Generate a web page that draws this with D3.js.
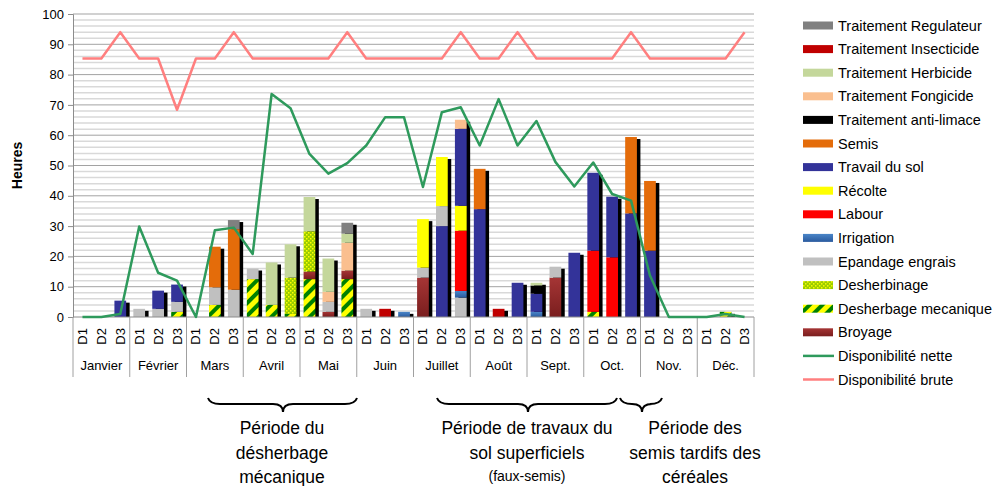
<!DOCTYPE html>
<html>
<head>
<meta charset="utf-8">
<script src="https://cdn.jsdelivr.net/npm/d3@7"></script>
<style>
  body { margin: 0; background: #fff; }
  svg { font-family: "Liberation Sans", Arial, sans-serif; }
</style>
</head>
<body>
<svg id="chart" width="993" height="486"></svg>
<script>
// Months and decades
const months = ["Janvier", "Février", "Mars", "Avril", "Mai", "Juin", "Juillet", "Août", "Sept.", "Oct.", "Nov.", "Déc."];
const decades = ["D1", "D2", "D3"];
const yTicks = [0, 10, 20, 30, 40, 50, 60, 70, 80, 90, 100];

// Hours per decade (36 values: Jan D1 ... Déc D3)
//                     Jan          Fév            Mars          Avril           Mai               Juin        Juillet          Août           Sept.         Oct.            Nov.          Déc.
const desherbageMeca = [0, 0, 0,    0, 0, 1.7,     0, 4, 0,      12.5, 4, 1,     12.5, 0, 12.5,    0, 0, 0,    0, 0, 0,         0, 0, 0,       0, 0, 0,      1.7, 0, 0,      0, 0, 0,      0, 1.7, 0];
const broyage        = [0, 0, 0,    0, 0, 0,       0, 0, 0,      0, 0, 0,        2.5, 1.7, 2.8,    0, 0, 0,    13, 0, 0,        0, 0, 0,       0, 13, 0,     0, 0, 0,        0, 0, 0,      0, 0, 0];
const travailBas     = [0, 0, 0,    0, 0, 0,       0, 0, 0,      0, 0, 0,        0, 0, 0,          0, 0, 0,    0, 30, 0,        0, 0, 0,       0, 0, 0,      0, 0, 0,        0, 0, 0,      0, 0, 0];
const epandage       = [0, 0, 0,    2.7, 2.7, 3.3, 0, 5.8, 9,    3.5, 0, 0,      0, 3.3, 0,        2.7, 0, 0,  3.3, 6.6, 6.4,   0, 0, 0,       0, 3.6, 0,    0, 0, 0,        0, 0, 0,      0, 0, 0];
const irrigation     = [0, 0, 0,    0, 0, 0,       0, 0, 0,      0, 0, 0,        0, 0, 0,          0, 0, 1.7,  0, 0, 2.2,       0, 0, 0,       1.7, 0, 0,    0, 0, 0,        0, 0, 0,      0, 0, 0];
const labour         = [0, 0, 0,    0, 0, 0,       0, 0, 0,      0, 0, 0,        0, 0, 0,          0, 0, 0,    0, 0, 19.9,      0, 0, 0,       0, 0, 0,      20.2, 19.7, 0,  0, 0, 0,      0, 0, 0];
const recolte        = [0, 0, 0,    0, 0, 0,       0, 0, 0,      0, 0, 0,        0, 0, 0,          0, 0, 0,    16, 16.2, 8.2,   0, 0, 0,       0, 0, 0,      0, 0, 0,        0, 0, 0,      0, 0, 0];
const travail        = [0, 0, 5.4,  0, 6, 5.7,     0, 0, 0,      0, 0, 0,        0, 0, 0,          0, 0, 0,    0, 0, 25.4,      35.6, 0, 11.3, 6, 0, 21.2,   25.7, 20, 34.2, 21.9, 0, 0,   0, 0, 0];
const semis          = [0, 0, 0,    0, 0, 0,       0, 13.4, 20,  0, 0, 0,        0, 0, 0,          0, 0, 0,    0, 0, 0,         13.3, 0, 0,    0, 0, 0,      0, 0, 25.2,     23, 0, 0,     0, 0, 0];
const antiLimace     = [0, 0, 0,    0, 0, 0,       0, 0, 0,      0, 0, 0,        0, 0, 0,          0, 0, 0,    0, 0, 0,         0, 0, 0,       2.7, 0, 0,    0, 0, 0,        0, 0, 0,      0, 0, 0];
const desherbinage   = [0, 0, 0,    0, 0, 0,       0, 0, 0,      0, 0, 12,       13.3, 0, 0,       0, 0, 0,    0, 0, 0,         0, 0, 0,       0, 0, 0,      0, 0, 0,        0, 0, 0,      0, 0, 0];
const fongicide      = [0, 0, 0,    0, 0, 0,       0, 0, 0,      0, 0, 0,        0, 3.3, 9.2,      0, 0, 0,    0, 0, 3,         0, 0, 0,       0, 0, 0,      0, 0, 0,        0, 0, 0,      0, 0, 0];
const herbicide      = [0, 0, 0,    0, 0, 0,       0, 0, 0,      0, 14, 11,      11.3, 11, 3,      0, 0, 0,    0, 0, 0,         0, 0, 0,       0.9, 0, 0,    0, 0, 0,        0, 0, 0,      0, 0, 0];
const insecticide    = [0, 0, 0,    0, 0, 0,       0, 0, 0,      0, 0, 0,        0, 0, 0,          0, 2.7, 0,  0, 0, 0,         0, 2.7, 0,     0, 0, 0,      0, 0, 0,        0, 0, 0,      0, 0, 0];
const regulateur     = [0, 0, 0,    0, 0, 0,       0, 0, 3,      0, 0, 0,        0, 0, 3.6,        0, 0, 0,    0, 0, 0,         0, 0, 0,       0, 0, 0,      0, 0, 0,        0, 0, 0,      0, 0, 0];

const dispoNette = [0, 0, 1, 29.9, 14.6, 12, 0, 28.6, 29.5, 20.8, 73.6, 68.9, 53.8, 47.3, 50.8, 56.6, 65.9, 65.9,
                    42.9, 67.6, 69.2, 56.6, 71.9, 56.6, 64.7, 51.2, 43.1, 51, 40.6, 38.4, 13.7, 0, 0, 0, 1, 0];
const dispoBrute = [85.3, 85.3, 94, 85.3, 85.3, 68.4, 85.3, 85.3, 94, 85.3, 85.3, 85.3, 85.3, 85.3, 94, 85.3, 85.3, 85.3,
                    85.3, 85.3, 94, 85.3, 85.3, 94, 85.3, 85.3, 85.3, 85.3, 85.3, 94, 85.3, 85.3, 85.3, 85.3, 85.3, 94];

// Series, bottom of the stack first
const series = [
    { key: "dm", label: "Desherbage mecanique", values: desherbageMeca, fill: "url(#patDM)" },
    { key: "broy", label: "Broyage", values: broyage, fill: "url(#gradBroy)" },
    { key: "travBas", label: null, values: travailBas, fill: "#333399" },
    { key: "ep", label: "Epandage engrais", values: epandage, fill: "#C0C0C0" },
    { key: "irr", label: "Irrigation", values: irrigation, fill: "url(#gradIrr)" },
    { key: "lab", label: "Labour", values: labour, fill: "#FF0000" },
    { key: "rec", label: "Récolte", values: recolte, fill: "#FFFF00" },
    { key: "trav", label: "Travail du sol", values: travail, fill: "#333399" },
    { key: "semis", label: "Semis", values: semis, fill: "#E46C0A" },
    { key: "lim", label: "Traitement anti-limace", values: antiLimace, fill: "#000000" },
    { key: "dsb", label: "Desherbinage", values: desherbinage, fill: "url(#patDSB)" },
    { key: "fong", label: "Traitement Fongicide", values: fongicide, fill: "#FABF8F" },
    { key: "herb", label: "Traitement Herbicide", values: herbicide, fill: "#C4D79B" },
    { key: "ins", label: "Traitement Insecticide", values: insecticide, fill: "#C00000" },
    { key: "reg", label: "Traitement Regulateur", values: regulateur, fill: "#808080" }
];

const legendOrder = ["reg", "ins", "herb", "fong", "lim", "semis", "trav", "rec", "lab", "irr", "ep", "dsb", "dm", "broy"];

const svg = d3.select("#chart");
const margin = { left: 73, right: 239, top: 14, bottom: 169 };
const W = 993, H = 486;
const plotRight = W - margin.right;   // 754
const plotBottom = H - margin.bottom; // 317

// patterns / gradients
const defs = svg.append("defs");
const pDM = defs.append("pattern").attr("id", "patDM").attr("patternUnits", "userSpaceOnUse")
    .attr("width", 9).attr("height", 9).attr("patternTransform", "rotate(45)");
pDM.append("rect").attr("width", 9).attr("height", 9).attr("fill", "#FFFF00");
pDM.append("rect").attr("width", 4).attr("height", 9).attr("fill", "#008000");

const pDSB = defs.append("pattern").attr("id", "patDSB").attr("patternUnits", "userSpaceOnUse")
    .attr("width", 4).attr("height", 4);
pDSB.append("rect").attr("width", 4).attr("height", 4).attr("fill", "#99CC00");
pDSB.append("rect").attr("x", 0).attr("y", 0).attr("width", 1.5).attr("height", 1.5).attr("fill", "#FFFF00");
pDSB.append("rect").attr("x", 2).attr("y", 2).attr("width", 1.5).attr("height", 1.5).attr("fill", "#FFFF00");

const gB = defs.append("linearGradient").attr("id", "gradBroy").attr("x1", 0).attr("y1", 0).attr("x2", 0).attr("y2", 1);
gB.append("stop").attr("offset", "0%").attr("stop-color", "#A53535");
gB.append("stop").attr("offset", "100%").attr("stop-color", "#7A1E1E");
const gI = defs.append("linearGradient").attr("id", "gradIrr").attr("x1", 0).attr("y1", 0).attr("x2", 0).attr("y2", 1);
gI.append("stop").attr("offset", "0%").attr("stop-color", "#4A86C8");
gI.append("stop").attr("offset", "100%").attr("stop-color", "#2A5A9E");

// scales
const slots = [];
months.forEach(m => decades.forEach(d => slots.push(m + "|" + d)));

const x = d3.scaleBand().domain(slots).range([margin.left, plotRight]).padding(0);
const y = d3.scaleLinear().domain([0, 100]).range([plotBottom, margin.top]);
const bw = x.bandwidth();
const barW = bw * 0.62;

// gridlines
const grid = svg.append("g");
grid.selectAll("line.minor")
    .data(d3.range(2, 101, 2).filter(v => v % 10 !== 0))
    .enter().append("line")
    .attr("x1", margin.left).attr("x2", plotRight)
    .attr("y1", d => y(d)).attr("y2", d => y(d))
    .attr("stroke", "#d9d9d9").attr("stroke-width", 1.5);
grid.selectAll("line.major")
    .data(yTicks.filter(v => v > 0))
    .enter().append("line")
    .attr("x1", margin.left).attr("x2", plotRight)
    .attr("y1", d => y(d)).attr("y2", d => y(d))
    .attr("stroke", "#a3a3a3").attr("stroke-width", 1);

// y axis
const yAxis = svg.append("g")
    .attr("transform", `translate(${margin.left},0)`)
    .call(d3.axisLeft(y).tickValues(yTicks).tickSize(5).tickPadding(4));
yAxis.select(".domain").attr("stroke", "#8c8c8c");
yAxis.selectAll(".tick line").attr("stroke", "#8c8c8c");
yAxis.selectAll("text").style("font-size", "13px").attr("fill", "#000");

svg.append("text")
    .attr("transform", `translate(22, ${(margin.top + plotBottom) / 2}) rotate(-90)`)
    .attr("text-anchor", "middle")
    .style("font-size", "14px").style("font-weight", "bold")
    .text("Heures");

// stacked bars
const table = slots.map((s, i) => {
    const row = { slot: s };
    series.forEach(se => row[se.key] = se.values[i]);
    return row;
});
const stacked = d3.stack().keys(series.map(s => s.key))(table);
const totals = table.map(r => d3.sum(series, s => r[s.key]));

// shadows
svg.append("g").selectAll("rect")
    .data(slots.map((s, i) => ({ slot: s, total: totals[i] })).filter(d => d.total > 0))
    .enter().append("rect")
    .attr("x", d => x(d.slot) + (bw - barW) / 2 + 3.5)
    .attr("y", d => y(d.total) + 2)
    .attr("width", barW)
    .attr("height", d => plotBottom - y(d.total) - 2)
    .attr("fill", "#000");

const barG = svg.append("g");
stacked.forEach((layer, li) => {
    barG.append("g")
        .selectAll("rect")
        .data(layer.filter(d => d[1] - d[0] > 0))
        .enter().append("rect")
        .attr("x", d => x(d.data.slot) + (bw - barW) / 2)
        .attr("y", d => y(d[1]))
        .attr("width", barW)
        .attr("height", d => y(d[0]) - y(d[1]))
        .attr("fill", series[li].fill);
});

// baseline
svg.append("line")
    .attr("x1", margin.left).attr("x2", plotRight)
    .attr("y1", plotBottom).attr("y2", plotBottom)
    .attr("stroke", "#8c8c8c");

// category axis
const catG = svg.append("g");
catG.selectAll("text.dec")
    .data(slots)
    .enter().append("text")
    .attr("transform", d => `translate(${x(d) + bw / 2 + 4.5}, ${plotBottom + 11}) rotate(-90)`)
    .attr("text-anchor", "end")
    .style("font-size", "13px")
    .text(d => d.split("|")[1]);

catG.selectAll("text.month")
    .data(months)
    .enter().append("text")
    .attr("x", m => x(m + "|D1") + bw * 1.5)
    .attr("y", plotBottom + 53)
    .attr("text-anchor", "middle")
    .style("font-size", "13px")
    .text(m => m);

catG.selectAll("line.sep")
    .data(months.map(m => x(m + "|D1")).concat([plotRight]))
    .enter().append("line")
    .attr("x1", d => d).attr("x2", d => d)
    .attr("y1", plotBottom).attr("y2", plotBottom + 60)
    .attr("stroke", "#a0a0a0");

// lines
const lineGen = d3.line()
    .x((d, i) => x(slots[i]) + bw / 2)
    .y(d => y(d));

svg.append("path").datum(dispoBrute)
    .attr("d", lineGen).attr("fill", "none")
    .attr("stroke", "#FF7F7F").attr("stroke-width", 2.5).attr("stroke-linejoin", "round");
svg.append("path").datum(dispoNette)
    .attr("d", lineGen).attr("fill", "none")
    .attr("stroke", "#2E9A5C").attr("stroke-width", 2.5).attr("stroke-linejoin", "round");

// legend
const legendItems = legendOrder.map(k => {
    const s = series.find(se => se.key === k);
    return { type: "rect", label: s.label, fill: s.fill };
}).concat([
    { type: "line", label: "Disponibilité nette", fill: "#2E9A5C" },
    { type: "line", label: "Disponibilité brute", fill: "#FF7F7F" }
]);

const legend = svg.append("g").attr("transform", "translate(803, 25.5)");
const li = legend.selectAll("g")
    .data(legendItems)
    .enter().append("g")
    .attr("transform", (d, i) => `translate(0, ${i * 23.6})`);
li.filter(d => d.type === "rect").append("rect")
    .attr("x", 0).attr("y", -4).attr("width", 30).attr("height", 8)
    .attr("fill", d => d.fill);
li.filter(d => d.type === "line").append("line")
    .attr("x1", 0).attr("x2", 31).attr("y1", 0).attr("y2", 0)
    .attr("stroke", d => d.fill).attr("stroke-width", 2.5);
li.append("text")
    .attr("x", 35).attr("y", 0).attr("dy", "0.35em")
    .style("font-size", "14.5px")
    .text(d => d.label);

// period annotations
function brace(x1, x2, xm, y0) {
    const y1 = y0 + 6, y2 = y0 + 14;
    return `M${x1},${y0} Q${x1 + 2},${y1} ${x1 + 12},${y1} L${xm - 10},${y1} Q${xm},${y1} ${xm},${y2}` +
           ` M${xm},${y2} Q${xm},${y1} ${xm + 10},${y1} L${x2 - 12},${y1} Q${x2 - 2},${y1} ${x2},${y0}`;
}
const periods = [
    { x1: 208, x2: 357, xm: 283, cx: 282, lines: ["Période du", "désherbage", "mécanique"], small: false },
    { x1: 437, x2: 617, xm: 528, cx: 527, lines: ["Période de travaux du", "sol superficiels", "(faux-semis)"], small: true },
    { x1: 620, x2: 662, xm: 642, cx: 695, lines: ["Période des", "semis tardifs des", "céréales"], small: false }
];
const ann = svg.append("g");
periods.forEach(p => {
    ann.append("path").attr("d", brace(p.x1, p.x2, p.xm, 398))
        .attr("fill", "none").attr("stroke", "#000").attr("stroke-width", 2);
    p.lines.forEach((t, i) => {
        ann.append("text")
            .attr("x", p.cx)
            .attr("y", 434 + i * 24.5 - (p.small && i === 2 ? 2 : 0))
            .attr("text-anchor", "middle")
            .style("font-size", (p.small && i === 2) ? "14px" : "17.5px")
            .text(t);
    });
});
</script>
</body>
</html>
